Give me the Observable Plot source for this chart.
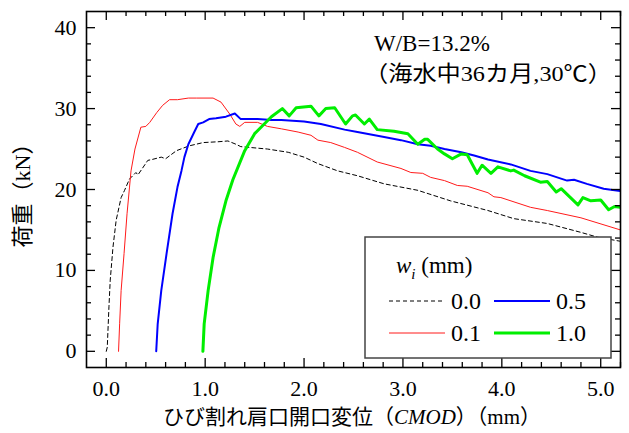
<!DOCTYPE html>
<html><head><meta charset="utf-8">
<script src="https://cdn.jsdelivr.net/npm/d3@7"></script>
<script src="https://cdn.jsdelivr.net/npm/@observablehq/plot@0.6"></script>
<style>
body{margin:0;background:#fff;}
svg{display:block;}
</style>
</head><body><div id="chart"></div>
<script>
// ---- data (CMOD in mm, load in kN) ----
const seriesNames = ["0.0", "0.1", "0.5", "1.0"];
const seriesColors = ["#000000", "#ff1a1a", "#0000ff", "#00ee00"];
const seriesWidths = [1, 1, 2, 3];
const seriesDash = ["4,3", null, null, null];

const x00 = [0.00,0.01,0.027,0.04,0.068,0.10,0.15,0.185,0.235,0.30,0.32,0.42,0.46,0.556,0.60,0.71,0.84,0.98,1.13,1.23,1.31,1.36,1.63,1.84,2.0,2.14,2.34,2.54,2.81,3.15,3.48,3.86,4.12,4.46,4.8,4.97,5.2];
const y00 = [0,0.5,5.5,8.8,12.9,16.2,19.0,19.9,21.3,22.1,21.8,23.6,23.7,24.0,23.8,24.8,25.4,25.8,25.9,26.0,25.6,25.3,25.0,24.6,24.0,23.2,22.3,21.7,20.7,19.9,18.6,17.4,16.4,15.8,14.7,14.1,13.6];

const x01 = [0.124,0.135,0.15,0.18,0.21,0.235,0.25,0.29,0.35,0.40,0.44,0.51,0.57,0.64,0.72,0.83,0.91,1.08,1.16,1.25,1.31,1.35,1.40,1.53,1.63,1.77,1.94,2.07,2.14,2.27,2.41,2.54,2.74,2.98,3.08,3.2,3.28,3.42,3.55,3.65,3.86,3.92,3.99,4.29,4.46,4.8,5.2];
const y01 = [0,3.4,7.5,12.1,17.0,20.3,22.3,25.0,27.7,27.8,28.3,29.5,30.4,31.1,31.1,31.3,31.3,31.3,30.8,29.3,28.1,27.8,28.3,28.3,27.8,27.5,27.1,26.7,26.1,25.8,25.2,24.6,23.4,22.6,22.1,22.0,21.5,21.1,20.5,20.4,19.6,19.1,19.0,17.8,17.4,16.5,15.0];

const x05 = [0.505,0.52,0.556,0.61,0.67,0.72,0.76,0.79,0.83,0.89,0.93,0.98,1.04,1.11,1.21,1.30,1.36,1.53,1.67,1.77,2.0,2.17,2.41,2.54,2.81,2.98,3.15,3.28,3.42,3.59,3.72,3.86,4.09,4.29,4.46,4.66,4.73,4.86,5.03,5.2];
const y05 = [0,3.4,7.5,12.1,17.0,20.3,22.3,24.0,25.6,27.1,28.1,28.3,28.7,28.8,29.0,29.4,28.7,28.7,28.6,28.6,28.4,28.1,27.4,27.1,26.5,26.1,25.6,25.4,25.0,24.6,24.2,23.7,23.1,22.3,21.9,21.1,21.2,20.7,20.1,19.8];

const x10 = [0.977,0.99,1.03,1.08,1.14,1.21,1.28,1.40,1.50,1.67,1.78,1.85,1.92,2.07,2.15,2.22,2.31,2.42,2.49,2.52,2.61,2.66,2.74,2.91,3.05,3.15,3.22,3.25,3.35,3.42,3.50,3.59,3.65,3.75,3.80,3.89,3.96,4.09,4.12,4.23,4.39,4.46,4.55,4.60,4.77,4.82,4.90,5.00,5.08,5.14,5.20];
const y10 = [0,3.4,7.5,11.6,15.3,18.6,21.2,24.8,26.9,29.0,30.0,29.1,30.1,30.3,29.1,30.0,30.1,28.1,29.1,29.2,28.1,28.7,27.4,27.2,26.9,25.6,26.2,26.2,25.0,24.4,23.8,24.4,24.3,22.0,23.0,22.0,22.8,22.3,22.4,21.7,20.9,21.0,19.7,20.1,18.1,19.0,18.6,18.7,17.5,17.9,17.8];

const seriesX = [x00, x01, x05, x10];
const seriesY = [y00, y01, y05, y10];

// ---- axes / ticks ----
const xDomain = [-0.2, 5.2];
const yDomain = [-2, 42];
const xMajor = [0, 1, 2, 3, 4, 5];
const xMinor = d3.range(0, 5.21, 0.2).map(v => +v.toFixed(1)).filter(v => !xMajor.includes(v));
const yMajor = [0, 10, 20, 30, 40];
const yMinor = d3.range(0, 41, 2).filter(v => !yMajor.includes(v));

const xTitle = ["ひび割れ肩口開口変位（", "CMOD", "）（mm）"];
const yTitle = "荷重（kN）";
const note1 = "W/B=13.2%";
const note2 = "（海水中36カ月,30℃）";
const legendTitle = ["w", "i", " (mm)"];

// ---- build ----
const W = 629, H = 433;
const mL = 86, mR = 9, mT = 11, mB = 66;
const innerW = W - mL - mR, innerH = H - mT - mB;
const FONT = "'Liberation Serif', 'Noto Sans CJK JP', serif";

const rows = [];
seriesNames.forEach((name, i) => {
  seriesX[i].forEach((x, j) => rows.push({series: name, x, y: seriesY[i][j]}));
});

const lineMarks = seriesNames.map((name, i) =>
  Plot.line(rows.filter(d => d.series === name), {
    x: "x", y: "y",
    stroke: seriesColors[i],
    strokeWidth: seriesWidths[i],
    strokeDasharray: seriesDash[i] ?? undefined,
    strokeLinejoin: "round",
    clip: true
  })
);

const tickMarks = (vals, len, kind) => {
  if (kind === "x") return [
    Plot.tickX(vals, {x: d => d, insetTop: innerH - len, stroke: "black", strokeWidth: 1.3}),
    Plot.tickX(vals, {x: d => d, insetBottom: innerH - len, stroke: "black", strokeWidth: 1.3})
  ];
  return [
    Plot.tickY(vals, {y: d => d, insetRight: innerW - len, stroke: "black", strokeWidth: 1.3}),
    Plot.tickY(vals, {y: d => d, insetLeft: innerW - len, stroke: "black", strokeWidth: 1.3})
  ];
};

function decorations() {
  const g = d3.create("svg:g").attr("text-anchor", "start").attr("fill", "black");
  // annotation
  g.append("text").attr("x", 374).attr("y", 51).attr("font-size", 23).text(note1);
  g.append("text").attr("x", 364).attr("y", 81).attr("font-size", 22)
    .attr("textLength", 248).attr("lengthAdjust", "spacingAndGlyphs").text(note2);
  // legend box
  const bx = 365, by = 237, bw = 246, bh = 121;
  g.append("rect").attr("x", bx).attr("y", by).attr("width", bw).attr("height", bh)
    .attr("fill", "white").attr("stroke", "#444").attr("stroke-width", 1.5);
  const t = g.append("text").attr("x", 396).attr("y", 273).attr("font-size", 23);
  t.append("tspan").attr("font-style", "italic").text(legendTitle[0]);
  t.append("tspan").attr("font-style", "italic").attr("font-size", 15).attr("dy", 6).text(legendTitle[1]);
  t.append("tspan").attr("dy", -6).text(legendTitle[2]);
  const cols = [389, 494], rowsY = [301, 333];
  const order = [[0, 0, 0], [1, 0, 1], [2, 1, 0], [3, 1, 1]]; // series, col, row
  order.forEach(([si, c, r]) => {
    const x0 = cols[c], yy = rowsY[r];
    g.append("line").attr("x1", x0).attr("x2", x0 + 56).attr("y1", yy).attr("y2", yy)
      .attr("stroke", seriesColors[si]).attr("stroke-width", seriesWidths[si])
      .attr("stroke-dasharray", seriesDash[si]);
    g.append("text").attr("x", x0 + 62).attr("y", yy + 8).attr("font-size", 24).text(seriesNames[si]);
  });
  // axis titles
  const xt = g.append("text").attr("x", 352).attr("y", 424).attr("text-anchor", "middle").attr("font-size", 21);
  xt.append("tspan").text(xTitle[0]);
  xt.append("tspan").attr("font-style", "italic").text(xTitle[1]);
  xt.append("tspan").text(xTitle[2]);
  g.append("text").attr("transform", "translate(30,190) rotate(-90)").attr("text-anchor", "middle")
    .attr("font-size", 22).text(yTitle);
  return g.node();
}

const chart = Plot.plot({
  width: W, height: H,
  marginLeft: mL, marginRight: mR, marginTop: mT, marginBottom: mB,
  style: {background: "white", color: "black"},
  x: {domain: xDomain, ticks: xMajor, tickFormat: d => d.toFixed(1), tickSize: 0, tickPadding: 13, label: null},
  y: {domain: yDomain, ticks: yMajor, tickFormat: d => String(d), tickSize: 0, tickPadding: 10, label: null},
  marks: [
    ...lineMarks,
    ...tickMarks(xMajor, 9, "x"),
    ...tickMarks(xMinor, 5, "x"),
    ...tickMarks(yMajor, 9, "y"),
    ...tickMarks(yMinor, 5, "y"),
    Plot.frame({stroke: "black", strokeWidth: 1.6}),
    decorations
  ]
});
// force fonts on every text (inline style wins over Plot's defaults)
const sel = d3.select(chart);
sel.style("font-family", FONT);
sel.selectAll("text").style("font-family", FONT);
sel.selectAll("g[aria-label='x-axis tick label'] text, g[aria-label='y-axis tick label'] text").style("font-size", "22px");
sel.selectAll("g[aria-label='x-axis tick label'], g[aria-label='y-axis tick label']").attr("font-size", 22).style("font-size", "22px");
document.getElementById("chart").appendChild(chart);
</script>
</body></html>
